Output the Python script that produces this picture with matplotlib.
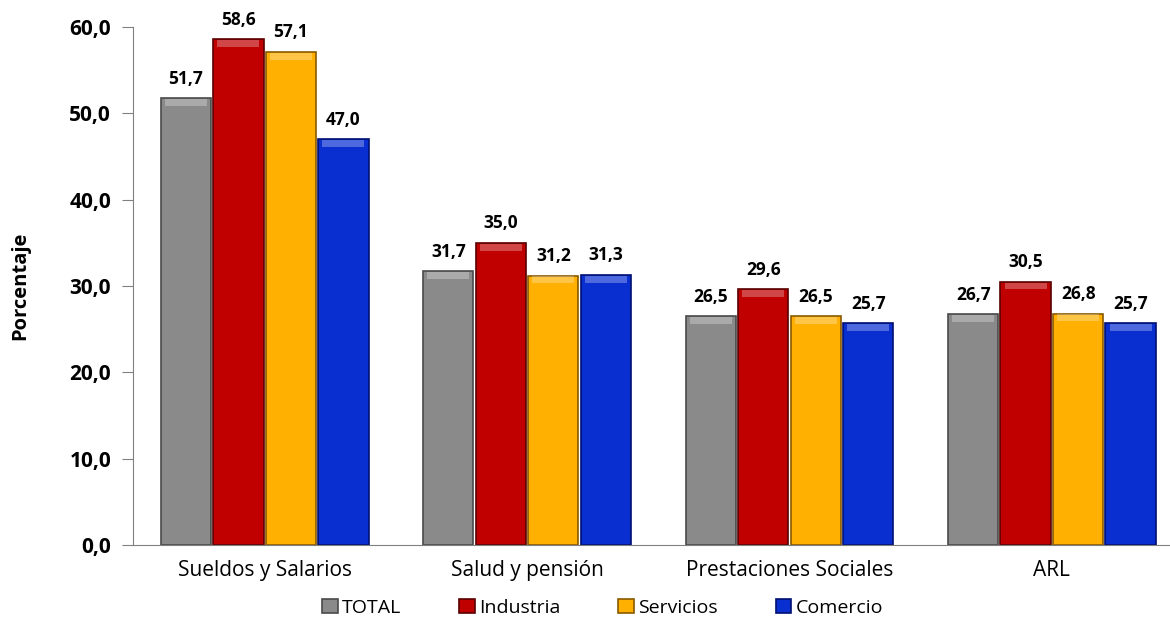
import numpy as np
from matplotlib import pyplot as plt

categories = ["Sueldos y Salarios", "Salud y pensión", "Prestaciones Sociales", "ARL"]
series_names = ["TOTAL", "Industria", "Servicios", "Comercio"]
total = [51.7, 31.7, 26.5, 26.7]
industria = [58.6, 35.0, 29.6, 30.5]
servicios = [57.1, 31.2, 26.5, 26.8]
comercio = [47.0, 31.3, 25.7, 25.7]
colors = ["#8a8a8a", "#c00000", "#ffb000", "#0a2fd0"]
edges = ["#4a4a4a", "#5a0000", "#8a5a00", "#001070"]

plt.rcParams['font.family'] = ['Open Sans', 'DejaVu Sans']

fig = plt.figure(figsize=(11.7, 6.23), dpi=100)
ax = fig.add_axes([0.114, 0.125, 0.886, 0.832])

x = np.arange(len(categories))
w = 0.2
for i, (name, vals) in enumerate(zip(series_names, [total, industria, servicios, comercio])):
    pos = x + (i - 1.5) * w
    ax.bar(pos, vals, width=w * 0.96, color=colors[i], edgecolor=edges[i], linewidth=1.2, label=name)
    # light bevel strip on top of each bar
    ax.bar(pos, [0.8] * len(vals), bottom=np.array(vals) - 0.9, width=w * 0.8,
           color="white", alpha=0.28, linewidth=0)
    for p, v in zip(pos, vals):
        ax.text(p, v + 1.2, f"{v:.1f}".replace(".", ","), ha="center", va="bottom",
                fontsize=12.5, fontweight="bold")

ax.set_xlim(-0.5, 3.45)
ax.set_ylim(0, 60)
ax.set_yticks(np.arange(0, 61, 10))
ax.set_yticklabels([f"{t:.1f}".replace(".", ",") for t in np.arange(0, 61, 10)],
                   fontsize=15, fontweight="bold")
ax.set_xticks(x)
ax.set_xticklabels(categories, fontsize=15)
ax.tick_params(axis="x", length=0, pad=11)
ax.tick_params(axis="y", length=8, color="#808080", direction="out", pad=8)
ax.set_ylabel("Porcentaje", fontsize=14.5, fontweight="bold", labelpad=28)

for s in ["top", "right"]:
    ax.spines[s].set_visible(False)
ax.spines["left"].set_color("#808080")
ax.spines["bottom"].set_color("#808080")

handles, labels = ax.get_legend_handles_labels()
fig.legend(handles[:4], labels[:4], loc="lower center", bbox_to_anchor=(0.515, -0.018), ncol=4,
           frameon=False, fontsize=14, handlelength=0.8, handleheight=0.8,
           handletextpad=0.2, columnspacing=3.0)

plt.savefig("out.png", dpi=100)
